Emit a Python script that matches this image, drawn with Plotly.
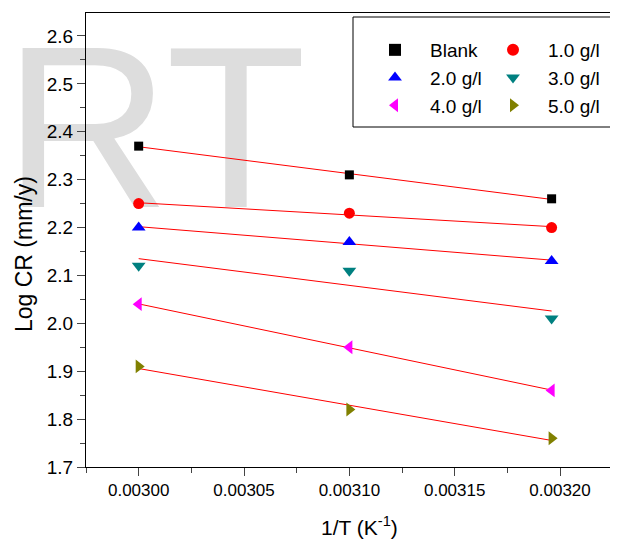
import numpy as np
import plotly.graph_objects as go

# ---- data ----
inv_T = [0.00300, 0.00310, 0.003196]
series_names = ["Blank", "1.0 g/l", "2.0 g/l", "3.0 g/l", "4.0 g/l", "5.0 g/l"]
blank = [2.37, 2.31, 2.26]
c1_0 = [2.25, 2.23, 2.20]
c2_0 = [2.20, 2.17, 2.13]
c3_0 = [2.12, 2.11, 2.01]
c4_0 = [2.04, 1.95, 1.86]
c5_0 = [1.91, 1.82, 1.76]
series_values = [blank, c1_0, c2_0, c3_0, c4_0, c5_0]

symbols = ["square", "circle", "triangle-up", "triangle-down", "triangle-left", "triangle-right"]
colors = ["#000000", "#FF0000", "#0000FF", "#008080", "#FF00FF", "#808000"]
sizes = [9, 11, 12, 12, 12, 12]
legend_cols = ["legend", "legend2", "legend", "legend2", "legend", "legend2"]

FONT = "Arial, Liberation Sans, sans-serif"
W, H = 618, 540
OFF = 8  # page body margin offset
ml, mr, mt, mb = 78, 0, 5, 81
pw, ph = W - ml - mr, H - mt - mb

def px_x(p):  # screen px -> paper
    return (p - OFF - ml) / pw

def px_y(p):
    return (H - mb - (p - OFF)) / ph

fig = go.Figure()

# fitted lines (drawn first, under markers)
for vals in series_values:
    k, b = np.polyfit(inv_T, vals, 1)
    xs = [min(inv_T), max(inv_T)]
    fig.add_trace(go.Scatter(x=xs, y=[k * v + b for v in xs], mode="lines",
                             line=dict(color="#FF0000", width=1),
                             showlegend=False, hoverinfo="skip"))

for name, vals, sym, col, sz, lg in zip(series_names, series_values, symbols, colors, sizes, legend_cols):
    fig.add_trace(go.Scatter(x=inv_T, y=vals, mode="markers", name=name, legend=lg,
                             marker=dict(symbol=sym, color=col, size=sz, line=dict(width=0))))

shapes = [
    # watermark
    dict(type="rect", xref="paper", yref="paper", layer="below",
         x0=px_x(0), x1=px_x(310), y0=px_y(195), y1=px_y(15),
         line=dict(width=0), fillcolor="rgba(0,0,0,0)",
         label=dict(text="RT", font=dict(family=FONT, size=230, color="#DDDDDD"),
                    textposition="middle center")),
    # legend box
    dict(type="rect", xref="paper", yref="paper", layer="above",
         x0=px_x(353), x1=px_x(613), y0=px_y(127), y1=px_y(17),
         line=dict(color="#000000", width=1), fillcolor="rgba(255,255,255,0)"),
]

annotations = [
    dict(text="Log CR (mm/y)", xref="paper", yref="paper", x=px_x(24), y=px_y(254),
         xanchor="center", yanchor="middle", textangle=-90, showarrow=False,
         font=dict(family=FONT, size=23, color="black")),
    dict(text="1/T (K<sup>-1</sup>)", xref="paper", yref="paper", x=px_x(359), y=px_y(526),
         xanchor="center", yanchor="middle", showarrow=False,
         font=dict(family=FONT, size=21, color="black")),
]

leg_common = dict(orientation="v", xanchor="left", yanchor="top",
                  font=dict(family=FONT, size=19), bgcolor="rgba(0,0,0,0)",
                  borderwidth=0, itemsizing="constant", itemwidth=60, tracegroupgap=0)

# x range right end chosen so the frame runs past the right edge of the window
x_right = 0.003 + (618 + 8 - 138.3) / 2108500

fig.update_layout(
    width=W, height=H,
    margin=dict(l=ml, r=mr, t=mt, b=mb, autoexpand=False),
    paper_bgcolor="white", plot_bgcolor="rgba(0,0,0,0)",
    font=dict(family=FONT, size=17, color="black"),
    shapes=shapes, annotations=annotations,
    legend=dict(x=px_x(360), y=px_y(31), **leg_common),
    legend2=dict(x=px_x(478), y=px_y(31), **leg_common),
    xaxis=dict(range=[0.002975, x_right], tick0=0.003, dtick=0.00005, tickformat=".5f",
               ticks="outside", ticklen=8, tickwidth=1, showline=True, linecolor="black",
               linewidth=1, mirror=True, showgrid=False, zeroline=False,
               tickfont=dict(size=17),
               minor=dict(ticks="outside", ticklen=5, dtick=0.000025, tick0=0.003, showgrid=False)),
    yaxis=dict(range=[1.7, 2.648], tick0=1.7, dtick=0.1, tickformat=".1f",
               ticks="outside", ticklen=8, tickwidth=1, showline=True, linecolor="black",
               linewidth=1, mirror=False, showgrid=False, zeroline=False,
               tickfont=dict(size=19),
               minor=dict(ticks="outside", ticklen=5, dtick=0.05, showgrid=False)),
)

fig.write_html("out.html")
